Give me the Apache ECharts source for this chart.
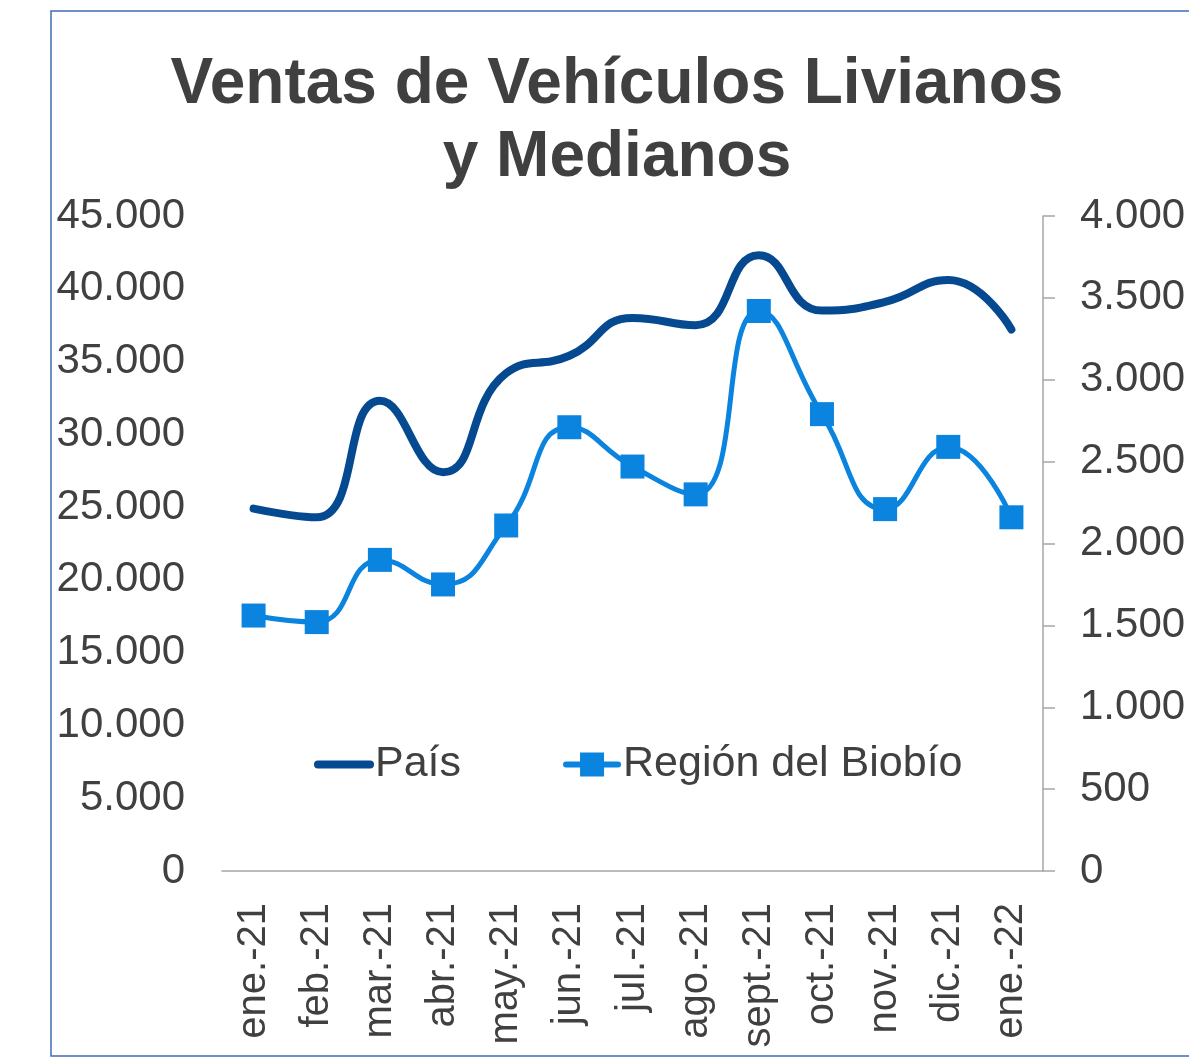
<!DOCTYPE html>
<html>
<head>
<meta charset="utf-8">
<script src="https://cdn.jsdelivr.net/npm/echarts@6/dist/echarts.min.js"></script>
<style>
  html, body { margin: 0; padding: 0; background: #fff; }
  #chart { width: 1189px; height: 1059px; }
</style>
</head>
<body>
<div id="chart"></div>
<script>
// datos
var meses = ['ene.-21', 'feb.-21', 'mar.-21', 'abr.-21', 'may.-21', 'jun.-21', 'jul.-21',
             'ago.-21', 'sept.-21', 'oct.-21', 'nov.-21', 'dic.-21', 'ene.-22'];
var pais = [24900, 24300, 32300, 27400, 34200, 35400, 38000, 37500, 42300, 38500, 39100, 40600, 37200];
var biobio = [1560, 1520, 1900, 1750, 2110, 2710, 2470, 2300, 3420, 2790, 2210, 2590, 2160];
var ticksIzq = { min: 0, max: 45000, interval: 5000 };
var ticksDer = { min: 0, max: 4000, interval: 500 };

var texto = '#404040';
var fuente = '"Liberation Sans", Arial, sans-serif';

function fmt(v) {
  return String(v).replace(/\B(?=(\d{3})+(?!\d))/g, '.');
}

var chart = echarts.init(document.getElementById('chart'));
var option = {
  animation: false,
  textStyle: { fontFamily: fuente },
  graphic: [{
    type: 'rect',
    shape: { x: 51, y: 11, width: 1200, height: 1045 },
    style: { fill: 'none', stroke: '#3E6DB5', lineWidth: 1.5 }
  }],
  title: {
    text: 'Ventas de Vehículos Livianos\ny Medianos',
    left: 612,
    top: 44,
    textAlign: 'center',
    textStyle: { fontSize: 64, fontWeight: 'bold', color: texto, lineHeight: 73, fontFamily: fuente }
  },
  legend: {
    left: 309,
    top: 738,
    itemWidth: 52,
    itemHeight: 30,
    itemGap: 102,
    textStyle: { fontSize: 43, color: texto, fontFamily: fuente },
    data: [
      { name: 'País', itemStyle: { opacity: 0 }, lineStyle: { width: 8, cap: 'round' } },
      { name: 'Región del Biobío', lineStyle: { width: 6, cap: 'round' } }
    ]
  },
  grid: { left: 222, right: 146, top: 216, bottom: 188 },
  xAxis: {
    type: 'category',
    data: meses,
    boundaryGap: true,
    axisLine: { lineStyle: { color: '#a6a6a6', width: 1.5 } },
    axisTick: { show: false },
    axisLabel: { rotate: 90, fontSize: 40, color: texto, margin: 32, interval: 0 }
  },
  yAxis: [{
    type: 'value',
    min: ticksIzq.min, max: ticksIzq.max, interval: ticksIzq.interval,
    axisLine: { show: false },
    axisTick: { show: false },
    splitLine: { show: false },
    axisLabel: { fontSize: 42, color: texto, margin: 37, formatter: fmt }
  }, {
    type: 'value',
    position: 'right',
    min: ticksDer.min, max: ticksDer.max, interval: ticksDer.interval,
    axisLine: { show: true, lineStyle: { color: '#a6a6a6', width: 1.5 } },
    axisTick: { show: true, inside: false, length: 12, lineStyle: { color: '#a6a6a6', width: 1.5 } },
    splitLine: { show: false },
    axisLabel: { fontSize: 42, color: texto, margin: 37, formatter: fmt }
  }],
  series: [{
    name: 'País',
    type: 'line',
    yAxisIndex: 0,
    data: pais,
    smooth: 0.5,
    symbol: 'none',
    color: '#054A91',
    lineStyle: { width: 8, color: '#054A91', cap: 'round' },
    z: 2
  }, {
    name: 'Región del Biobío',
    type: 'line',
    yAxisIndex: 1,
    data: biobio,
    smooth: 0.5,
    symbol: 'rect',
    symbolSize: 24,
    color: '#0A84DF',
    itemStyle: { color: '#0A84DF' },
    lineStyle: { width: 5, color: '#0A84DF', cap: 'round' },
    z: 3
  }]
};
chart.setOption(option);
</script>
</body>
</html>
